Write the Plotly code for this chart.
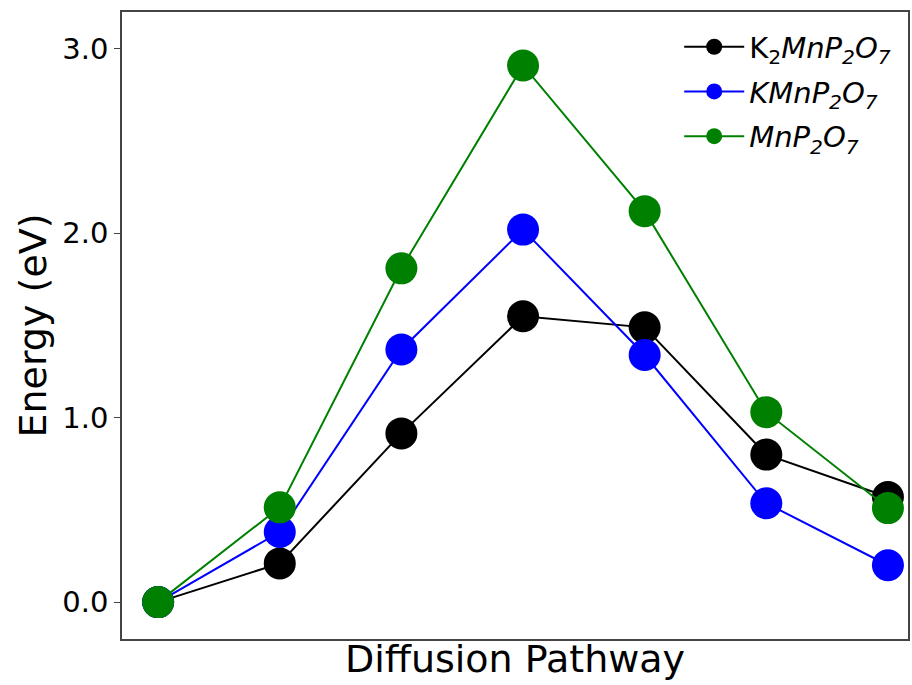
import plotly.graph_objects as go

x_idx = [0, 1, 2, 3, 4, 5, 6]
k2 = [0.0, 0.21, 0.915, 1.55, 1.49, 0.80, 0.57]
k1 = [0.0, 0.38, 1.37, 2.02, 1.34, 0.536, 0.20]
k0 = [0.0, 0.514, 1.81, 2.91, 2.12, 1.03, 0.51]
names = ["K<sub>2</sub><i>MnP<sub>2</sub>O<sub>7</sub></i>",
         "<i>KMnP<sub>2</sub>O<sub>7</sub></i>",
         "<i>MnP<sub>2</sub>O<sub>7</sub></i>"]
colors = ["black", "blue", "green"]
yticks = [0.0, 1.0, 2.0, 3.0]
ytick_text = ["0.0", "1.0", "2.0", "3.0"]

fig = go.Figure()
for i, (ys, nm, c) in enumerate(zip([k2, k1, k0], names, colors)):
    fig.add_trace(go.Scatter(x=x_idx, y=ys, name=nm, mode="lines+markers",
                             legendgroup=f"g{i}",
                             line=dict(color=c, width=2),
                             marker=dict(color=c, size=32)))

fig.update_layout(
    width=912, height=685,
    margin=dict(l=122, r=2, t=12, b=46),
    plot_bgcolor="white", paper_bgcolor="white",
    font=dict(family="DejaVu Sans", color="black"),
    showlegend=True,
    legend=dict(x=0.985, y=0.985, xanchor="right", yanchor="top",
                font=dict(size=29), bgcolor="rgba(0,0,0,0)", itemwidth=60,
                tracegroupgap=4),
    xaxis=dict(range=[-0.297, 6.165], showticklabels=False, ticks="",
               showgrid=False, zeroline=False, showline=True, linecolor="#444",
               linewidth=1.5, mirror=True,
               title=dict(text="Diffusion Pathway", font=dict(size=38), standoff=6)),
    yaxis=dict(range=[-0.2, 3.2], tickvals=yticks, ticktext=ytick_text,
               tickfont=dict(size=29), ticks="outside", ticklen=6, tickcolor="#444",
               showgrid=False, zeroline=False, showline=True, linecolor="#444",
               linewidth=1.5, mirror=True,
               title=dict(text="Energy (eV)", font=dict(size=38), standoff=4)),
)
fig.write_html("out.html", config={"displayModeBar": False},
               post_script="document.body.style.margin='0';document.body.style.padding='0';")
